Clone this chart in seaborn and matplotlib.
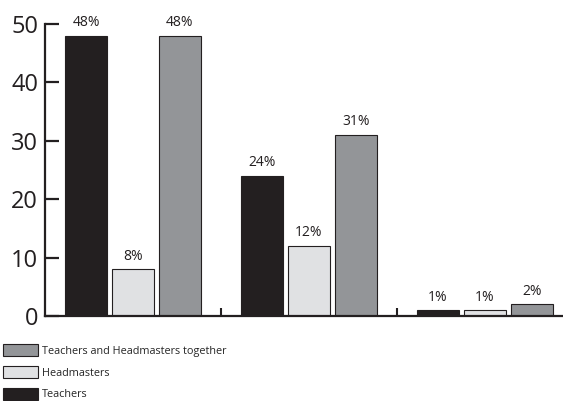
import matplotlib
matplotlib.use("Agg")
import matplotlib.pyplot as plt
import seaborn as sns
import pandas as pd
from matplotlib.patches import Patch

groups = ["A", "B", "C"]
series = ["Teachers", "Headmasters", "Teachers and Headmasters together"]
teachers = [48, 24, 1]
headmasters = [8, 12, 1]
together = [48, 31, 2]
labels_teachers = ["48%", "24%", "1%"]
labels_headmasters = ["8%", "12%", "1%"]
labels_together = ["48%", "31%", "2%"]
yticks = [0, 10, 20, 30, 40, 50]

colors = {"Teachers": "#231f20", "Headmasters": "#e0e1e3",
          "Teachers and Headmasters together": "#939598"}

rows = []
for s, vals in zip(series, [teachers, headmasters, together]):
    for g, v in zip(groups, vals):
        rows.append({"group": g, "series": s, "value": v})
df = pd.DataFrame(rows)

sns.set_style("white")
plt.rcParams["font.family"] = ["Open Sans", "DejaVu Sans"]

fig = plt.figure(figsize=(5.63, 4.01), dpi=100)
ax = fig.add_axes([45/563, 1-316/401, 528/563, 292/401])

sns.barplot(data=df, x="group", y="value", hue="series", hue_order=series,
            palette=colors, width=0.8, gap=0.09, edgecolor="#231f20",
            linewidth=0.8, legend=False, ax=ax, saturation=1, errorbar=None)

all_labels = [labels_teachers, labels_headmasters, labels_together]
for cont, labs in zip(ax.containers, all_labels):
    ax.bar_label(cont, labels=labs, padding=4, fontsize=10, color="#231f20", clip_on=False)

ax.set_xlim(-0.5, 2.5)
ax.set_ylim(0, 50)
ax.set_yticks(yticks)
ax.set_yticklabels([str(t) for t in yticks], fontsize=17, color="#231f20")
ax.set_xticks([])
ax.set_xticks([0.5, 1.5], minor=True)
ax.tick_params(axis="x", which="minor", direction="in", length=6, width=1.5, color="#231f20", bottom=True)
ax.tick_params(axis="y", which="major", direction="in", length=10, width=1.6, color="#231f20", left=True, pad=5)
ax.set_xlabel("")
ax.set_ylabel("")
for sp in ["top", "right"]:
    ax.spines[sp].set_visible(False)
for sp in ["left", "bottom"]:
    ax.spines[sp].set_linewidth(1.6)
    ax.spines[sp].set_color("#231f20")

handles = [Patch(facecolor=colors[s], edgecolor="#231f20", linewidth=0.8) for s in series[::-1]]
fig.legend(handles, series[::-1], loc="upper left", bbox_to_anchor=(0.0, 1-341/401),
           frameon=False, fontsize=7.8, handlelength=3.2, handleheight=1.3,
           handletextpad=0.35, labelspacing=0.85, borderaxespad=0, borderpad=0.3)

fig.savefig("out.png", dpi=100)
